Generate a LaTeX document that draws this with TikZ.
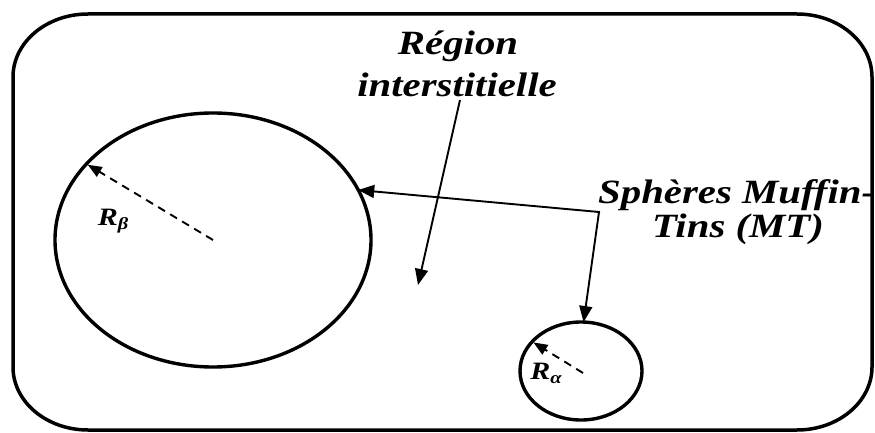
\documentclass[tikz,border=0pt]{standalone}
\usepackage{fontspec}
\usepackage{graphicx}
\setmainfont{Liberation Serif}
\newcommand{\wide}[1]{\scalebox{1.2}[1]{#1}}
\usetikzlibrary{shapes.geometric,arrows.meta}
\begin{document}
\begin{tikzpicture}[x=1pt,y=1pt,
  frame/.style={line width=3.5pt},
  sphere/.style={draw, ellipse, line width=3.4pt, inner sep=0pt, outer sep=0pt},
  pointer/.style={line width=1.9pt, -{Triangle[length=16pt,width=13pt]}},
  twoway/.style={line width=1.9pt, {Triangle[length=16pt,width=13pt]}-{Triangle[length=16pt,width=13pt]}},
  radline/.style={line width=1.9pt, dash pattern=on 8pt off 6pt, -{Triangle[length=14pt,width=11pt]}, shorten >=1.5pt},
  lab/.style={font=\bfseries\itshape\fontsize{34}{40}\selectfont, inner sep=0pt},
  rlab/.style={font=\bfseries\itshape\fontsize{25}{26}\selectfont, inner sep=0pt}]
\useasboundingbox (0,0) rectangle (875,432);
% outer frame
\draw[frame] (88,418) -- (797,418)
  arc[start angle=90,end angle=0,x radius=75,y radius=63] -- (872,65)
  arc[start angle=0,end angle=-90,x radius=75,y radius=63] -- (88,2)
  arc[start angle=270,end angle=180,x radius=75,y radius=63] -- (13,355)
  arc[start angle=180,end angle=90,x radius=75,y radius=63] -- cycle;
% spheres
\node[sphere, minimum width=316, minimum height=254] (big) at (213,192) {};
\node[sphere, minimum width=122, minimum height=98] (small) at (581,61) {};
% labels
\node[lab, anchor=base] (reg) at (458,377) {\wide{Région}};
\node[lab, anchor=base] (inter) at (457,335) {\wide{interstitielle}};
\node[lab, anchor=base west] (sph) at (598,229) {\wide{Sphères Muffin-}};
\node[lab, anchor=base] (tins) at (738,195) {\wide{Tins (MT)}};
\node[rlab] (rb) at (113,211) {\wide{R\raisebox{-4pt}{\fontsize{17}{17}\selectfont β}}};
\node[rlab] (ra) at (546,59) {\wide{R\raisebox{-4pt}{\fontsize{17}{17}\selectfont α}}};
% connectors
\coordinate (regtail) at (460,332);
\coordinate (regtip) at (418,147);
\draw[pointer] (regtail) -- (regtip);
\coordinate (knee) at (599,220);
\draw[twoway] (big.19) -- (knee) -- (small.87);
% radii
\draw[radline] (big.center) -- (big.149);
\draw[radline] ([shift={(2,-2)}]small.center) -- (small.149);
\end{tikzpicture}
\end{document}
